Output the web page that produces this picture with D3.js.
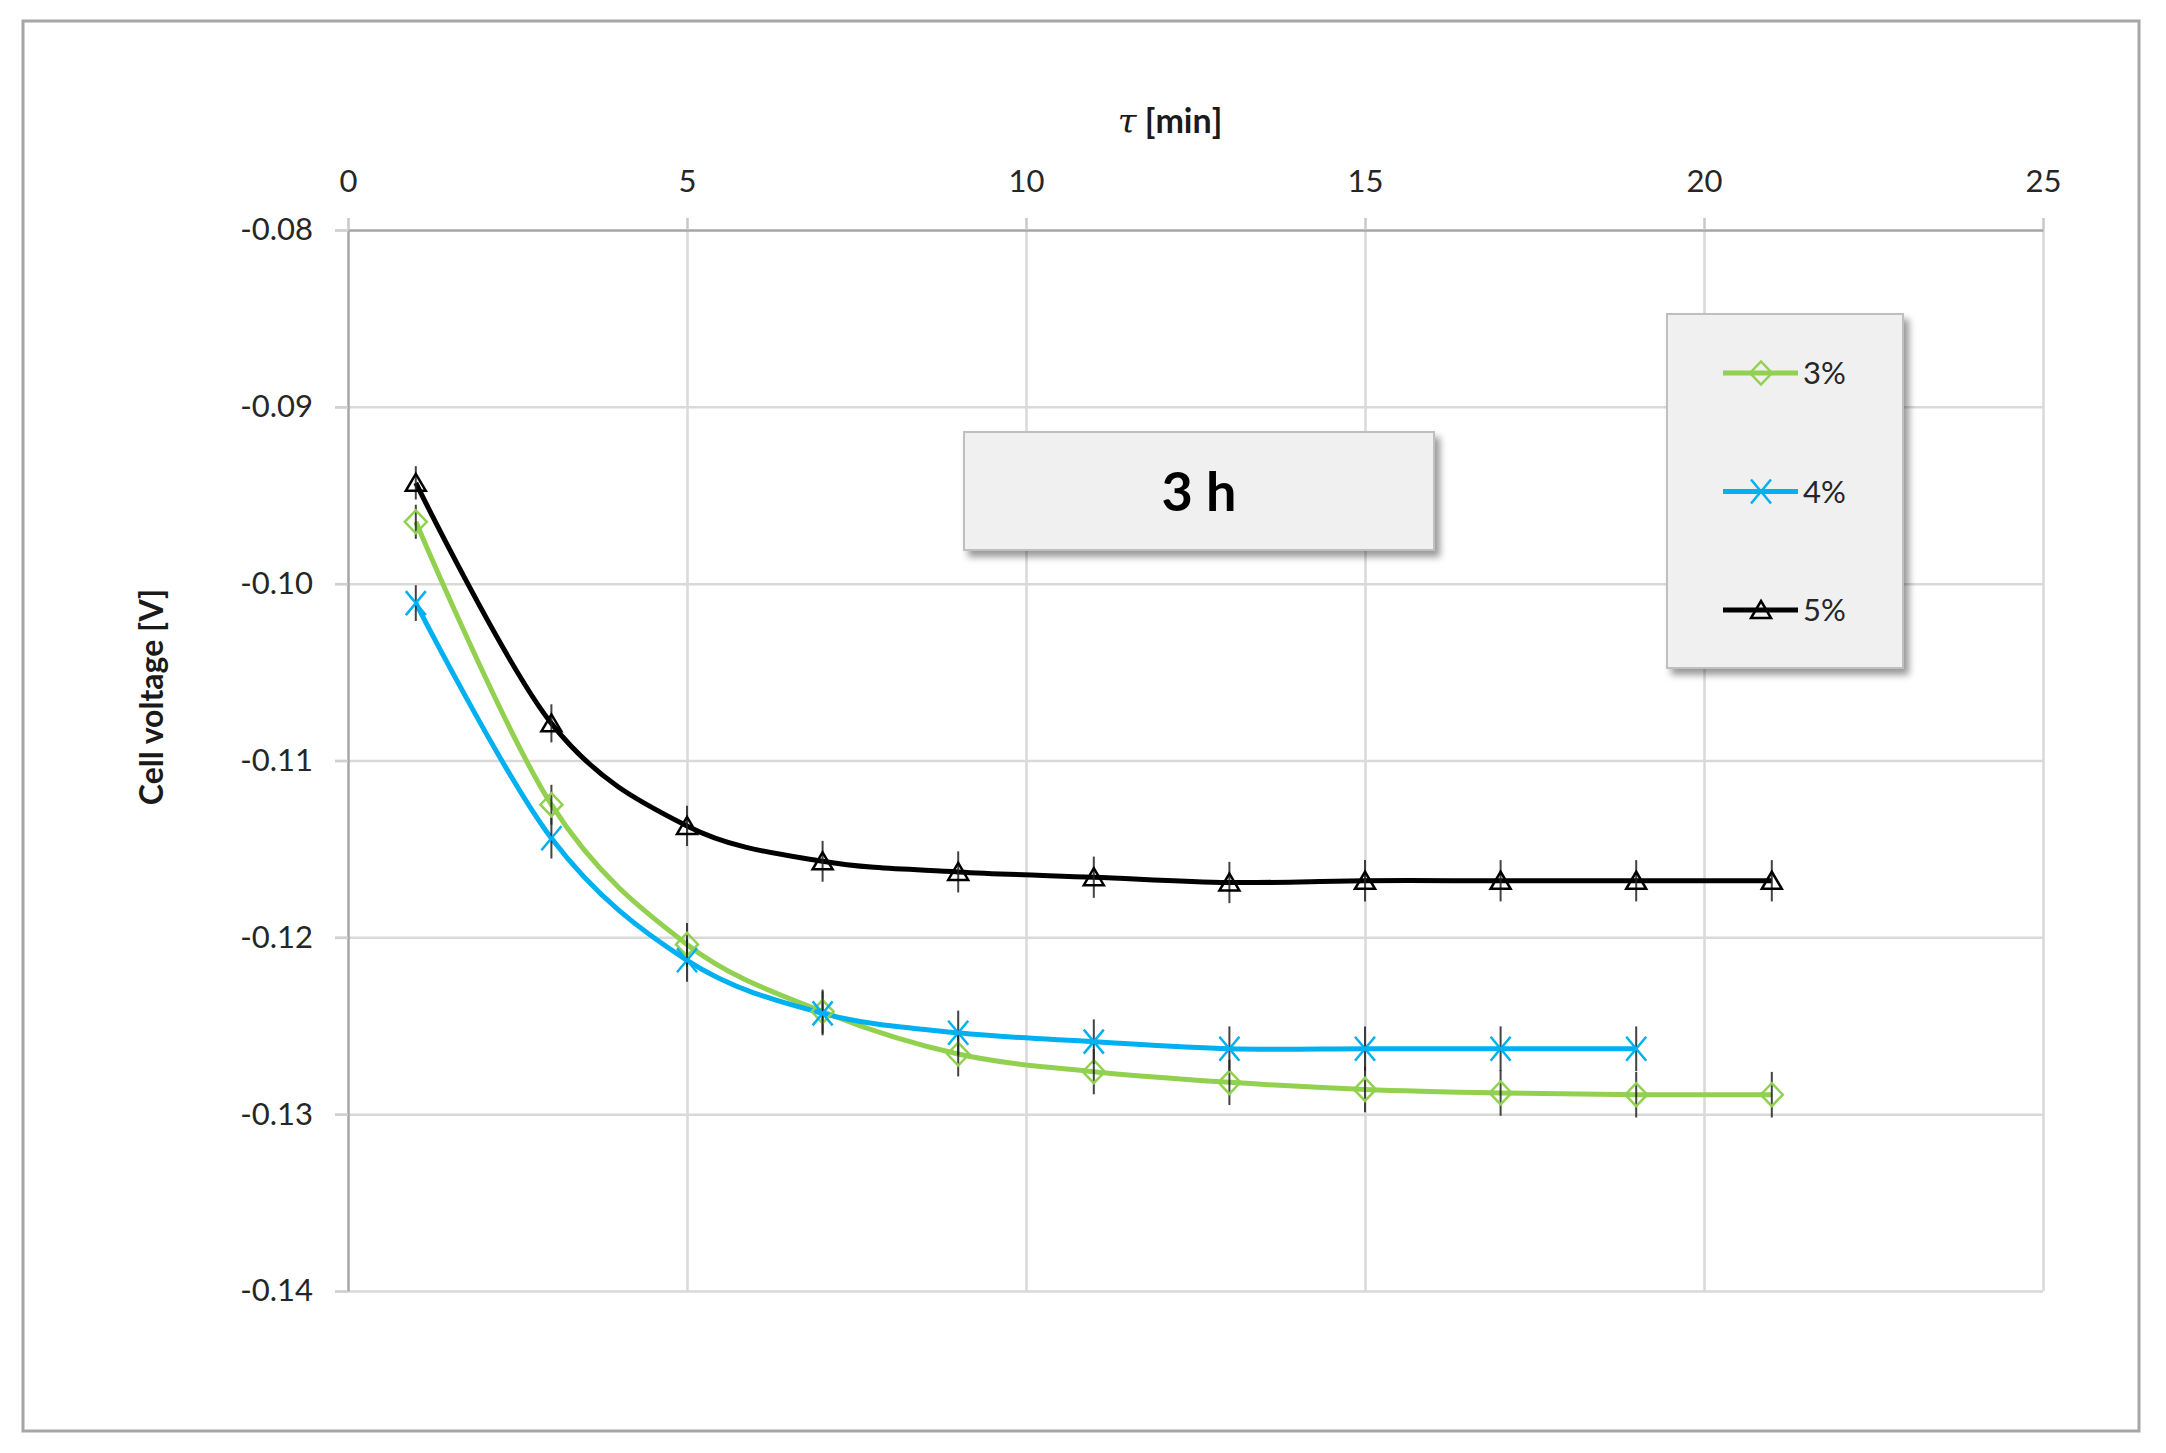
<!DOCTYPE html>
<html>
<head>
<meta charset="utf-8">
<title>Cell voltage - 3 h</title>
<style>
body { margin: 0; background: #fff; }
text { font-family: Lato, "Open Sans", sans-serif; fill: #1a1a1a; }
.grid line { stroke: #d9d9d9; stroke-width: 2.5px; }
.grid path { display: none; }
.axis path, .axis line { stroke: #a6a6a6; stroke-width: 2.5px; }
.axis text { font-size: 31px; fill: #262626; font-family: Lato, sans-serif; }
.series { fill: none; stroke-width: 5px; }
.errbar { stroke: #222; stroke-width: 2px; stroke-opacity: 0.85; }
</style>
</head>
<body>
<script src="https://d3js.org/d3.v7.min.js"></script>
<script>

// data
var tau = [1, 3, 5, 7, 9, 11, 13, 15, 17, 19, 21];
var tau4 = [1, 3, 5, 7, 9, 11, 13, 15, 17, 19];
var v3 = [-0.0965, -0.1125, -0.1204, -0.1242, -0.1266, -0.1276, -0.1282, -0.1286, -0.1288, -0.1289, -0.1289];
var v4 = [-0.1011, -0.1144, -0.1213, -0.1243, -0.1254, -0.1259, -0.1263, -0.1263, -0.1263, -0.1263];
var v5 = [-0.0943, -0.1079, -0.1137, -0.1157, -0.1163, -0.1166, -0.1169, -0.1168, -0.1168, -0.1168, -0.1168];
var seriesNames = ["3%", "4%", "5%"];
var errorPercent = 1;   // error bars: +/- 1 % of the value
var xTicks = [0, 5, 10, 15, 20, 25];
var yTicks = [-0.08, -0.09, -0.10, -0.11, -0.12, -0.13, -0.14];
var boxLabel = "3 h";

var width = 2166, height = 1453;
var plot = {left: 348, right: 2043, top: 230, bottom: 1291};

var svg = d3.select("body").append("svg")
    .attr("width", width)
    .attr("height", height);

var defs = svg.append("defs");
var shadow = defs.append("filter").attr("id", "shadow")
    .attr("x", "-10%").attr("y", "-10%").attr("width", "130%").attr("height", "130%");
shadow.append("feDropShadow")
    .attr("dx", 5).attr("dy", 6).attr("stdDeviation", 3.5)
    .attr("flood-color", "#000").attr("flood-opacity", 0.4);

// chart frame
svg.append("rect")
    .attr("x", 23).attr("y", 21)
    .attr("width", 2116).attr("height", 1410)
    .style("fill", "#fff").style("stroke", "#a6a6a6").style("stroke-width", 3);

var x = d3.scaleLinear().domain([0, 25]).range([plot.left, plot.right]);
var y = d3.scaleLinear().domain([-0.14, -0.08]).range([plot.bottom, plot.top]);

// gridlines
svg.append("g").attr("class", "grid")
    .attr("transform", "translate(0," + plot.top + ")")
    .call(d3.axisTop(x).tickValues(xTicks.slice(1)).tickSize(-(plot.bottom - plot.top)).tickFormat(""));
svg.append("g").attr("class", "grid")
    .attr("transform", "translate(" + plot.left + ",0)")
    .call(d3.axisLeft(y).tickValues(yTicks.slice(1)).tickSize(-(plot.right - plot.left)).tickFormat(""));

// little tick stubs on the left for the gridlines
svg.append("g").attr("class", "grid")
    .attr("transform", "translate(" + plot.left + ",0)")
    .call(d3.axisLeft(y).tickValues(yTicks).tickSize(13).tickFormat(""));

// axes
var fmtY = d3.format(".2f");
var xAxis = svg.append("g").attr("class", "axis")
    .attr("transform", "translate(0," + plot.top + ")")
    .call(d3.axisTop(x).tickValues(xTicks).tickSize(12).tickSizeOuter(0).tickPadding(26)
        .tickFormat(d3.format("d")));
var yAxis = svg.append("g").attr("class", "axis")
    .attr("transform", "translate(" + plot.left + ",0)")
    .call(d3.axisLeft(y).tickValues(yTicks).tickSize(13).tickSizeOuter(0).tickPadding(22)
        .tickFormat(function(d) { return fmtY(d).replace("\u2212", "-"); }));
yAxis.selectAll(".tick line").style("stroke", "#d0d0d0");
xAxis.selectAll(".tick line").style("stroke", "#c8c8c8");

// axis titles
var title = svg.append("text")
    .attr("x", 1170).attr("y", 133)
    .attr("text-anchor", "middle")
    .style("font-size", "34px").style("font-weight", "bold");
title.append("tspan").text("τ")
    .style("font-family", "'DejaVu Serif', serif").style("font-style", "italic").style("font-weight", "normal");
title.append("tspan").text(" [min]");

svg.append("text")
    .attr("transform", "translate(163,697) rotate(-90)")
    .attr("text-anchor", "middle")
    .style("font-size", "32px").style("font-weight", "bold")
    .text("Cell voltage [V]");

// "3 h" box
svg.append("rect")
    .attr("x", 964).attr("y", 432).attr("width", 470).attr("height", 118)
    .style("fill", "#f0f0f0").style("stroke", "#bfbfbf").style("stroke-width", 2)
    .attr("filter", "url(#shadow)");
svg.append("text")
    .attr("x", 1199).attr("y", 511)
    .attr("text-anchor", "middle")
    .style("font-size", "54px").style("font-weight", "bold").style("fill", "#000")
    .text(boxLabel);

// series
var series = [
  {name: seriesNames[0], xs: tau, ys: v3, color: "#92d050", marker: "diamond"},
  {name: seriesNames[1], xs: tau4, ys: v4, color: "#00b0f0", marker: "cross"},
  {name: seriesNames[2], xs: tau, ys: v5, color: "#000000", marker: "triangle"}
];
series.forEach(function(s) {
  s.points = s.xs.map(function(t, i) { return {t: t, v: s.ys[i]}; });
});

function markerPath(type) {
  if (type == "diamond") return "M0,-11.5L11,0L0,11.5L-11,0Z";
  if (type == "cross") return "M-10,-12L10,12M-10,12L10,-12";
  return "M0,-9L10,8L-10,8Z";
}

var line = d3.line()
    .x(function(d) { return x(d.t); })
    .y(function(d) { return y(d.v); })
    .curve(d3.curveCardinal);

var lines = svg.append("g");
lines.selectAll("path")
    .data(series)
    .enter().append("path")
    .attr("class", "series")
    .style("stroke", function(d) { return d.color; })
    .attr("d", function(d) { return line(d.points); });

series.forEach(function(s) {
  var g = svg.append("g");
  g.selectAll("line")
      .data(s.points)
      .enter().append("line")
      .attr("class", "errbar")
      .attr("x1", function(d) { return x(d.t); })
      .attr("x2", function(d) { return x(d.t); })
      .attr("y1", function(d) { return y(d.v + Math.abs(d.v) * errorPercent / 100); })
      .attr("y2", function(d) { return y(d.v - Math.abs(d.v) * errorPercent / 100); });
  g.selectAll("path")
      .data(s.points)
      .enter().append("path")
      .attr("d", markerPath(s.marker))
      .attr("transform", function(d) { return "translate(" + x(d.t) + "," + y(d.v) + ")"; })
      .style("fill", "none")
      .style("stroke", s.color)
      .style("stroke-width", 2.5);
});

// legend
svg.append("rect")
    .attr("x", 1667).attr("y", 314).attr("width", 236).attr("height", 354)
    .style("fill", "#f0f0f0").style("stroke", "#bfbfbf").style("stroke-width", 2)
    .attr("filter", "url(#shadow)");
var legend = svg.append("g").selectAll("g")
    .data(series)
    .enter().append("g")
    .attr("transform", function(d, i) { return "translate(0," + (373 + i * 118.5) + ")"; });
legend.append("line")
    .attr("x1", 1723).attr("x2", 1798)
    .style("stroke", function(d) { return d.color; })
    .style("stroke-width", 5);
legend.append("path")
    .attr("d", function(d) { return markerPath(d.marker); })
    .attr("transform", "translate(1761,0)")
    .style("fill", "none")
    .style("stroke", function(d) { return d.color; })
    .style("stroke-width", 2.5);
legend.append("text")
    .attr("x", 1803).attr("y", 11)
    .style("font-size", "31px").style("fill", "#262626")
    .text(function(d) { return d.name; });

</script>
</body>
</html>
